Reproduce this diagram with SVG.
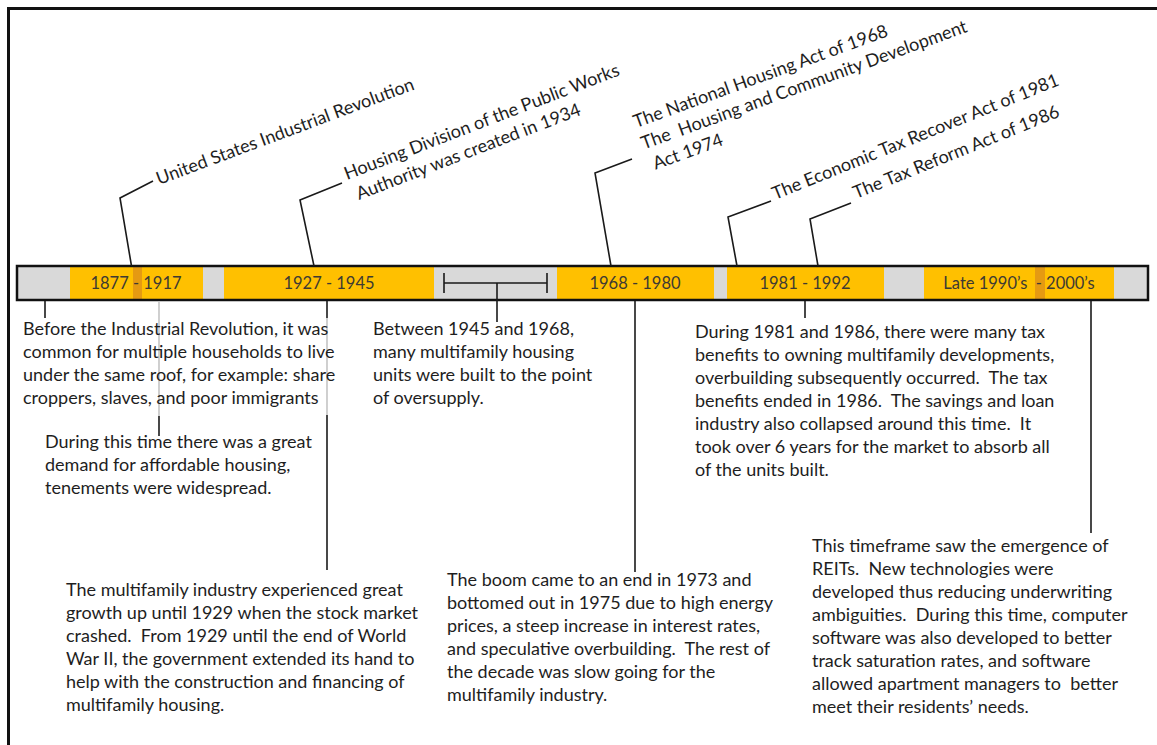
<svg xmlns="http://www.w3.org/2000/svg" width="1157" height="745" viewBox="0 0 1157 745">
<style>
.t{font-family:Lato,"Liberation Sans",sans-serif;font-size:18px;fill:#1e1e1e;white-space:pre}
.r{font-family:Lato,"Liberation Sans",sans-serif;font-size:18px;fill:#1e1e1e;white-space:pre}
.bl{font-family:Lato,"Liberation Sans",sans-serif;font-size:16.5px;fill:#3d3a33;text-anchor:middle;white-space:pre}
.ld{stroke:#1a1a1a;stroke-width:1.6;fill:none}
.lg{stroke:#c4c4c4;stroke-width:1.6;fill:none}
.y{fill:#ffc000}
.o{fill:#e59a12}
</style>
<rect width="1157" height="745" fill="#ffffff"/>
<path d="M8.5,745 V8.5 H1157" fill="none" stroke="#111" stroke-width="3"/>

<g id="timeline">
<rect x="17" y="266" width="1131" height="34" fill="#d9d9d9"/>
<rect class="y" x="70" y="266" width="133" height="34"/>
<rect class="o" x="133" y="266" width="9" height="34"/>
<rect class="y" x="224" y="266" width="210" height="34"/>
<rect class="y" x="557" y="266" width="157" height="34"/>
<rect class="y" x="727" y="266" width="157" height="34"/>
<rect class="y" x="924" y="266" width="190" height="34"/>
<rect class="o" x="1035" y="266" width="10" height="34"/>
<rect x="17" y="266" width="1131" height="34" fill="none" stroke="#111" stroke-width="2.5"/>
<text class="bl" x="136" y="289" xml:space="preserve">1877 - 1917</text>
<text class="bl" x="329" y="289" xml:space="preserve">1927 - 1945</text>
<text class="bl" x="635" y="289" xml:space="preserve">1968 - 1980</text>
<text class="bl" x="805" y="289" xml:space="preserve">1981 - 1992</text>
<text class="bl" x="1019" y="289" xml:space="preserve">Late 1990’s  - 2000’s</text>
<path class="ld" d="M444,273 V293 M444,283 H547 M547,273 V293"/>
</g>

<g id="connectors">
<path class="ld" d="M131.5,266 L120,198 L153,181"/>
<path class="ld" d="M314,266 L300,200 L342,183"/>
<path class="ld" d="M611,266 L595,173 L632,159"/>
<path class="ld" d="M737,266 L728,217 L771,201"/>
<path class="ld" d="M818,266 L810,219 L851,203"/>
<path class="ld" d="M45,301 V318"/>
<path class="lg" d="M159,301 V416"/>
<path class="ld" d="M159,416 V436"/>
<path class="ld" d="M327,301 V318"/>
<path class="lg" d="M327,318 V415"/>
<path class="ld" d="M327,415 V570"/>
<path class="ld" d="M497,283 V322"/>
<path class="ld" d="M635,301 V572"/>
<path class="ld" d="M805,301 V318"/>
<path class="ld" d="M1091,301 V533"/>
</g>

<g id="label-industrial-revolution">
<text class="r" transform="translate(159,185) rotate(-20.5)">United States Industrial Revolution</text>
</g>
<g id="label-housing-division">
<text class="r" xml:space="preserve" transform="translate(347,180) rotate(-21)"><tspan x="0" y="0">Housing Division of the Public Works</tspan><tspan x="4" y="23">Authority was created in 1934</tspan></text>
</g>
<g id="label-national-housing">
<text class="r" xml:space="preserve" transform="translate(636,128) rotate(-20)"><tspan x="0" y="0">The National Housing Act of 1968</tspan><tspan x="0" y="23">The  Housing and Community Development</tspan><tspan x="4" y="46">Act 1974</tspan></text>
</g>
<g id="label-economic-tax">
<text class="r" transform="translate(775,200) rotate(-22)">The Economic Tax Recover Act of 1981</text>
</g>
<g id="label-tax-reform">
<text class="r" transform="translate(856,199) rotate(-22)">The Tax Reform Act of 1986</text>
</g>

<g id="note-before">
<text class="t" xml:space="preserve"><tspan x="23" y="335">Before the Industrial Revolution, it was</tspan><tspan x="23" y="358">common for multiple households to live</tspan><tspan x="23" y="381">under the same roof, for example: share</tspan><tspan x="23" y="404">croppers, slaves, and poor immigrants</tspan></text>
</g>
<g id="note-1945-1968">
<text class="t" xml:space="preserve"><tspan x="373" y="335">Between 1945 and 1968,</tspan><tspan x="373" y="358">many multifamily housing</tspan><tspan x="373" y="381">units were built to the point</tspan><tspan x="373" y="404">of oversupply.</tspan></text>
</g>
<g id="note-1877-1917">
<text class="t" xml:space="preserve"><tspan x="45" y="448">During this time there was a great</tspan><tspan x="45" y="471">demand for affordable housing,</tspan><tspan x="45" y="494">tenements were widespread.</tspan></text>
</g>
<g id="note-1927-1945">
<text class="t" xml:space="preserve"><tspan x="66" y="596">The multifamily industry experienced great</tspan><tspan x="66" y="619">growth up until 1929 when the stock market</tspan><tspan x="66" y="642">crashed.  From 1929 until the end of World</tspan><tspan x="66" y="665">War II, the government extended its hand to</tspan><tspan x="66" y="688">help with the construction and financing of</tspan><tspan x="66" y="711">multifamily housing.</tspan></text>
</g>
<g id="note-1968-1980">
<text class="t" xml:space="preserve"><tspan x="447" y="586">The boom came to an end in 1973 and</tspan><tspan x="447" y="609">bottomed out in 1975 due to high energy</tspan><tspan x="447" y="632">prices, a steep increase in interest rates,</tspan><tspan x="447" y="655">and speculative overbuilding.  The rest of</tspan><tspan x="447" y="678">the decade was slow going for the</tspan><tspan x="447" y="701">multifamily industry.</tspan></text>
</g>
<g id="note-1981-1992">
<text class="t" xml:space="preserve"><tspan x="695" y="338">During 1981 and 1986, there were many tax</tspan><tspan x="695" y="361">benefits to owning multifamily developments,</tspan><tspan x="695" y="384">overbuilding subsequently occurred.  The tax</tspan><tspan x="695" y="407">benefits ended in 1986.  The savings and loan</tspan><tspan x="695" y="430">industry also collapsed around this time.  It</tspan><tspan x="695" y="453">took over 6 years for the market to absorb all</tspan><tspan x="695" y="476">of the units built.</tspan></text>
</g>
<g id="note-late-1990s">
<text class="t" xml:space="preserve"><tspan x="812" y="552">This timeframe saw the emergence of</tspan><tspan x="812" y="575">REITs.  New technologies were</tspan><tspan x="812" y="598">developed thus reducing underwriting</tspan><tspan x="812" y="621">ambiguities.  During this time, computer</tspan><tspan x="812" y="644">software was also developed to better</tspan><tspan x="812" y="667">track saturation rates, and software</tspan><tspan x="812" y="690">allowed apartment managers to  better</tspan><tspan x="812" y="713">meet their residents’ needs.</tspan></text>
</g>
</svg>
